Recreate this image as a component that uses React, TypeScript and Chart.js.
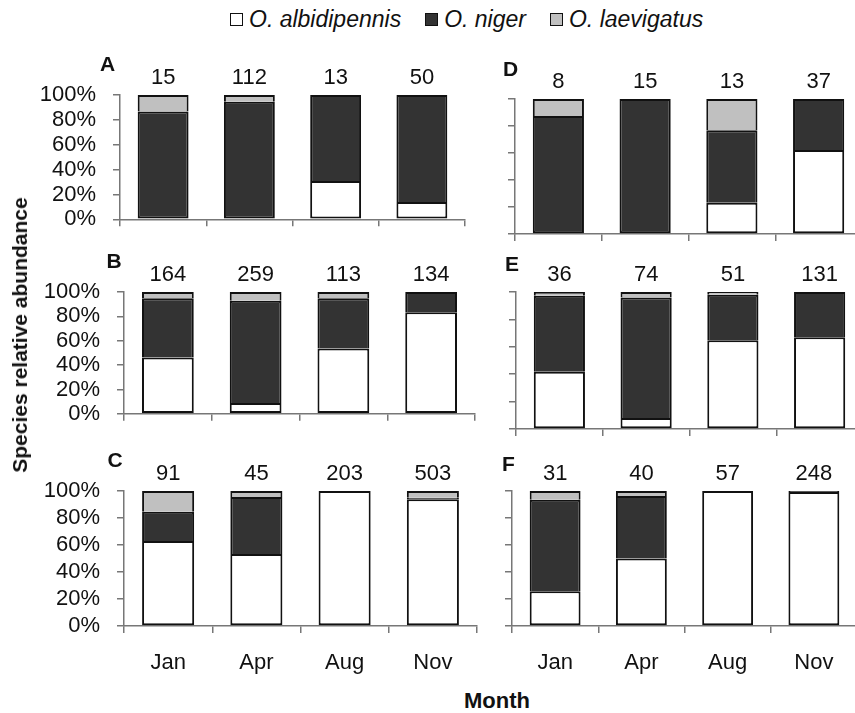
import React, { useEffect, useRef } from 'react';
import { Chart, registerables } from 'chart.js';

Chart.register(...registerables);

const FONT = '"Liberation Sans", Arial, Helvetica, sans-serif';
Chart.defaults.font.family = FONT;
Chart.defaults.color = '#111';

// ---- data ----
const months = ['Jan', 'Apr', 'Aug', 'Nov'];
const speciesNames = ['O. albidipennis', 'O. niger', 'O. laevigatus'];
const speciesColors = ['#ffffff', '#333333', '#c0c0c0'];
const yTickValues = [0, 20, 40, 60, 80, 100];
const panelLetters = ['A', 'B', 'C', 'D', 'E', 'F'];

const countsA = [15, 112, 13, 50];
const albiA = [0, 0, 30.8, 14];
const nigerA = [86.7, 94.6, 69.2, 86];
const laevA = [13.3, 5.4, 0, 0];

const countsB = [164, 259, 113, 134];
const albiB = [46.3, 8.8, 53.7, 83.3];
const nigerB = [48.6, 84.1, 41.2, 16.7];
const laevB = [5.1, 7.1, 5.1, 0];

const countsC = [91, 45, 203, 503];
const albiC = [63, 53.3, 100, 93.8];
const nigerC = [21.7, 42.3, 0, 1.2];
const laevC = [15.3, 4.4, 0, 5];

const countsD = [8, 15, 13, 37];
const albiD = [0, 0, 23.1, 62.2];
const nigerD = [87.5, 100, 53.8, 37.8];
const laevD = [12.5, 0, 23.1, 0];

const countsE = [36, 74, 51, 131];
const albiE = [41.7, 8.1, 64.7, 66.9];
const nigerE = [55.6, 87.8, 33.3, 33.1];
const laevE = [2.8, 4.1, 2.0, 0];

const countsF = [31, 40, 57, 248];
const albiF = [25.8, 50, 100, 99.2];
const nigerF = [67.7, 46.3, 0, 0.8];
const laevF = [6.5, 3.7, 0, 0];

const panelCounts = [countsA, countsB, countsC, countsD, countsE, countsF];
const panelSeries = [
  [albiA, nigerA, laevA],
  [albiB, nigerB, laevB],
  [albiC, nigerC, laevC],
  [albiD, nigerD, laevD],
  [albiE, nigerE, laevE],
  [albiF, nigerF, laevF],
];

// ---- layout (page coordinates of each plot area) ----
const panelLayout = [
  { left: 120, right: 465, top: 94.5, bottom: 233, yLabels: true, xLabels: false, ldx: -12.5, ldy: -30 },
  { left: 124, right: 475, top: 292, bottom: 428, yLabels: true, xLabels: false, ldx: -10, ldy: -29.5 },
  { left: 124, right: 477, top: 491, bottom: 626, yLabels: true, xLabels: true, ldx: -9, ldy: -30 },
  { left: 515, right: 862, top: 99, bottom: 234, yLabels: false, xLabels: false, ldx: -4.5, ldy: -29 },
  { left: 516, right: 863, top: 292, bottom: 429, yLabels: false, xLabels: false, ldx: -4, ldy: -26.5 },
  { left: 512, right: 857, top: 491, bottom: 626, yLabels: false, xLabels: true, ldx: -3.5, ldy: -25.5 },
];

const letterPlugin = {
  id: 'panelLetter',
  afterDraw(chart: any, _args: any, opts: any) {
    const { ctx, chartArea } = chart;
    ctx.save();
    ctx.font = `bold 21px ${FONT}`;
    ctx.fillStyle = '#111';
    ctx.textAlign = 'center';
    ctx.textBaseline = 'middle';
    ctx.fillText(opts.text, chartArea.left + opts.dx, chartArea.top + opts.dy);
    ctx.restore();
  },
};

const AXIS_COLOR = '#777';

function Panel({ index }: { index: number }) {
  const ref = useRef<HTMLCanvasElement | null>(null);
  const lay = panelLayout[index];
  const yW = lay.yLabels ? 95 : 20;
  const topH = 44;
  const botH = lay.xLabels ? 50 : 16;
  const padR = 3;
  const width = yW + (lay.right - lay.left) + padR;
  const height = topH + (lay.bottom - lay.top) + botH;

  useEffect(() => {
    if (!ref.current) return;
    const series = panelSeries[index];
    const chart = new Chart(ref.current, {
      type: 'bar',
      data: {
        labels: months,
        datasets: series.map((vals, si) => ({
          label: speciesNames[si],
          data: vals,
          backgroundColor: speciesColors[si],
          borderColor: '#111',
          borderWidth: 2,
          borderSkipped: (ctx: any) => {
            const i = ctx.dataIndex;
            const ds = ctx.chart.data.datasets;
            for (let k = 0; k < ctx.datasetIndex; k++) {
              if ((ds[k].data[i] as number) > 0) return 'start';
            }
            return false;
          },
          categoryPercentage: 1,
          barPercentage: 0.59,
        })) as any,
      },
      options: {
        animation: false,
        responsive: true,
        maintainAspectRatio: false,
        layout: { padding: { left: 0, right: padR, top: 0, bottom: 0 } },
        plugins: {
          legend: { display: false },
          tooltip: { enabled: false },
          panelLetter: { text: panelLetters[index], dx: lay.ldx, dy: lay.ldy },
        } as any,
        scales: {
          x: {
            type: 'category',
            stacked: true,
            offset: true,
            grid: {
              offset: true,
              drawOnChartArea: false,
              drawTicks: true,
              tickLength: 7,
              color: AXIS_COLOR,
              lineWidth: 1.5,
            },
            border: { display: true, color: AXIS_COLOR, width: 1.5 },
            ticks: {
              display: lay.xLabels,
              padding: 17,
              font: { size: 22 },
              color: '#111',
              autoSkip: false,
              maxRotation: 0,
            },
            afterFit: (s: any) => {
              s.height = botH;
            },
          },
          x2: {
            type: 'category',
            position: 'top',
            labels: panelCounts[index].map(String),
            offset: true,
            grid: { display: false, drawTicks: false },
            border: { display: false },
            ticks: { padding: 4, font: { size: 22 }, color: '#111', autoSkip: false, maxRotation: 0 },
            afterFit: (s: any) => {
              s.height = topH;
            },
          },
          y: {
            stacked: true,
            min: 0,
            max: 100,
            afterBuildTicks: (s: any) => {
              s.ticks = yTickValues.map((v) => ({ value: v }));
            },
            grid: {
              drawOnChartArea: false,
              drawTicks: true,
              tickLength: 7,
              color: AXIS_COLOR,
              lineWidth: 1.5,
            },
            border: { display: true, color: AXIS_COLOR, width: 1.5 },
            ticks: {
              display: lay.yLabels,
              autoSkip: false,
              padding: 17,
              font: { size: 22 },
              color: '#111',
              callback: (v: any) => `${v}%`,
            },
            afterFit: (s: any) => {
              s.width = yW;
            },
          },
        },
      } as any,
      plugins: [letterPlugin],
    });
    return () => chart.destroy();
  }, [index]);

  return (
    <div
      style={{
        position: 'absolute',
        left: lay.left - yW,
        top: lay.top - topH,
        width,
        height,
      }}
    >
      <canvas ref={ref} />
    </div>
  );
}

export default function App() {
  return (
    <div
      style={{
        position: 'absolute',
        left: 0,
        top: 0,
        width: 855,
        height: 713,
        overflow: 'hidden',
        background: '#fff',
        fontFamily: FONT,
        color: '#111',
      }}
    >
      <div
        style={{
          position: 'absolute',
          left: 230,
          top: 6,
          display: 'flex',
          alignItems: 'center',
          fontStyle: 'italic',
          fontSize: 23,
          lineHeight: '26px',
          whiteSpace: 'nowrap',
        }}
      >
        {speciesNames.map((n, i) => (
          <span key={n} style={{ display: 'flex', alignItems: 'center', marginRight: i < 2 ? 24 : 0 }}>
            <span
              style={{
                display: 'inline-block',
                width: 11,
                height: 11,
                border: '1.5px solid #111',
                background: speciesColors[i],
                marginRight: 6,
              }}
            />
            {n}
          </span>
        ))}
      </div>
      {panelLayout.map((_, i) => (
        <Panel key={i} index={i} />
      ))}
      <div
        style={{
          position: 'absolute',
          left: 20,
          top: 335,
          transform: 'translate(-50%, -50%) rotate(-90deg)',
          fontWeight: 'bold',
          fontSize: 21,
          whiteSpace: 'nowrap',
        }}
      >
        Species relative abundance
      </div>
      <div
        style={{
          position: 'absolute',
          left: 497,
          top: 701,
          transform: 'translate(-50%, -50%)',
          fontWeight: 'bold',
          fontSize: 22,
          whiteSpace: 'nowrap',
        }}
      >
        Month
      </div>
    </div>
  );
}
